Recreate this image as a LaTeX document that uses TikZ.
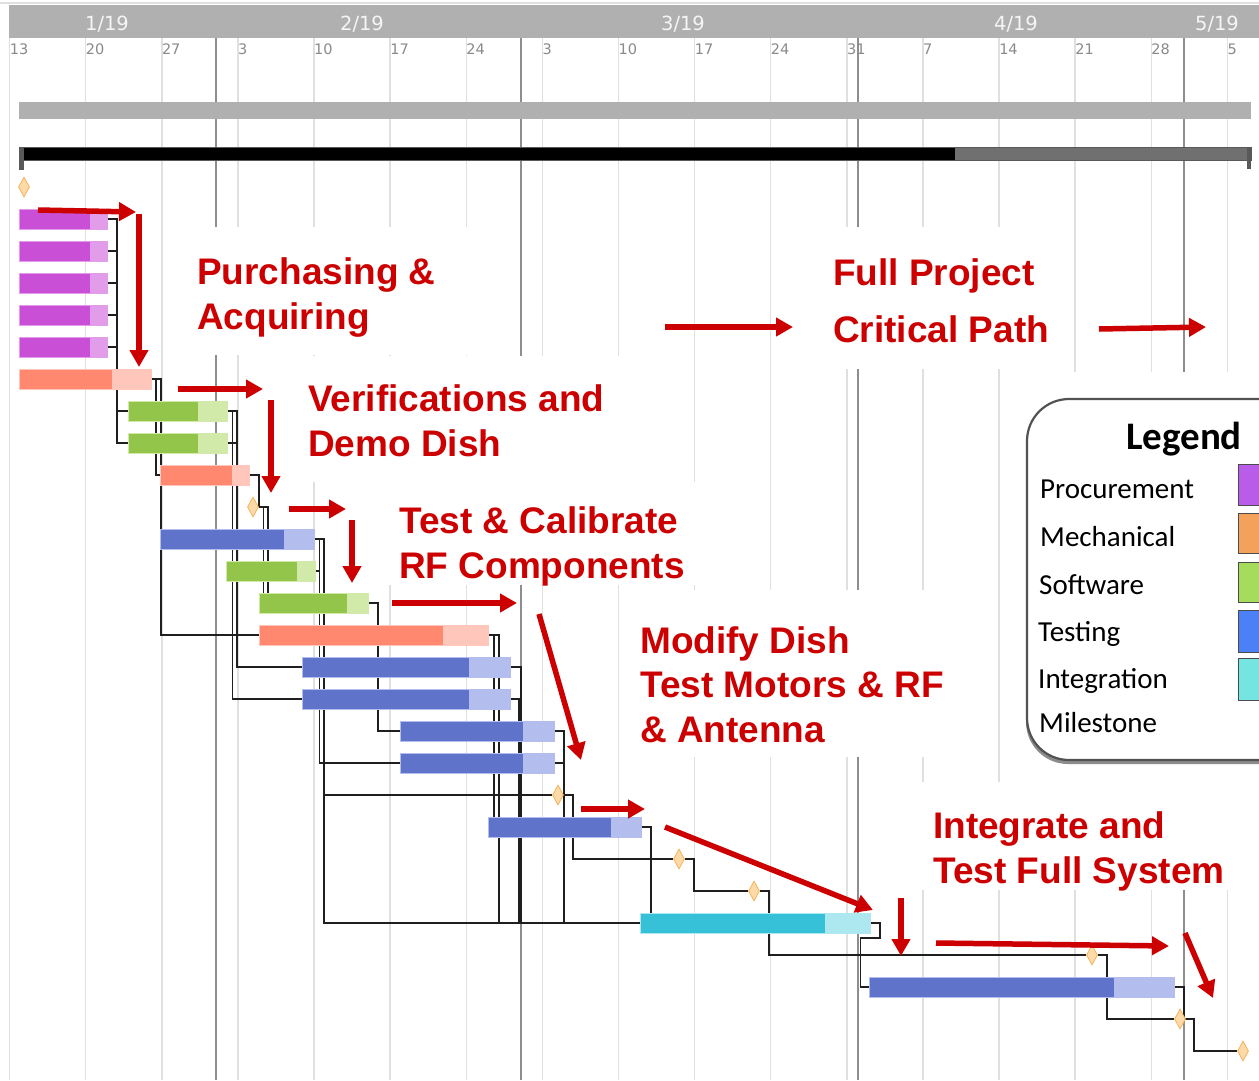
\documentclass[tikz,border=0pt]{standalone}
\usepackage{fontspec}
\setmainfont{DejaVu Sans}
\newfontfamily\notefont{Liberation Sans}
\newfontfamily\legendfont{Carlito}
\usetikzlibrary{shapes.geometric,arrows.meta}

\pgfdeclarelayer{back}
\pgfdeclarelayer{links}
\pgfdeclarelayer{front}
\pgfsetlayers{back,links,main,front}

\definecolor{bandgray}{HTML}{B0B0B0}
\definecolor{weekgray}{HTML}{E0E0E0}
\definecolor{monthgray}{HTML}{8E8E8E}
\definecolor{daytext}{HTML}{8A8A8A}
\definecolor{notered}{HTML}{CC0000}
\definecolor{procD}{HTML}{C94FD7}
\definecolor{procL}{HTML}{E29DEA}
\definecolor{mechD}{HTML}{FF886F}
\definecolor{mechL}{HTML}{FFC7BC}
\definecolor{softD}{HTML}{93C54B}
\definecolor{softL}{HTML}{D1EAA9}
\definecolor{testD}{HTML}{5F73CA}
\definecolor{testL}{HTML}{B3BEEE}
\definecolor{intD}{HTML}{36C1D9}
\definecolor{intL}{HTML}{ADE7F0}
\definecolor{mileF}{HTML}{FFDAA9}
\definecolor{mileD}{HTML}{F4B35A}
\definecolor{legProc}{HTML}{B95CEA}
\definecolor{legMech}{HTML}{F4A15C}
\definecolor{legSoft}{HTML}{A6DC5B}
\definecolor{legTest}{HTML}{4B80F6}
\definecolor{legInt}{HTML}{74E5E1}

\tikzset{
  task/.style={rectangle, inner sep=0pt, minimum height=20pt, anchor=west, line width=1pt},
  milestone/.style={diamond, inner sep=0pt, minimum width=11pt, minimum height=20pt,
    fill=mileF, draw=mileD, line width=0.8pt},
  link/.style={draw=black!88, line width=1.3pt},
  weekline/.style={draw=weekgray, line width=1.5pt},
  monthline/.style={draw=monthgray, line width=1.8pt},
  note/.style={draw=notered, line width=5.5pt, -{Triangle[length=17pt,width=18pt]}},
  notetext/.style={anchor=base west, inner sep=0pt, text=notered,
    font=\notefont\bfseries\fontsize{37}{37}\selectfont},
  daylabel/.style={anchor=base west, inner sep=0pt, text=daytext,
    font=\fontsize{14.5}{14.5}\selectfont},
  monthlabel/.style={anchor=base, inner sep=0pt, text=white!96!black,
    font=\fontsize{19.5}{19.5}\selectfont},
  legtext/.style={anchor=base west, inner sep=0pt, font=\legendfont\fontsize{29}{29}\selectfont},
  legtitle/.style={anchor=base west, inner sep=0pt, font=\legendfont\bfseries\fontsize{39}{39}\selectfont},
  swatch/.style={draw=black!70, line width=1pt},
}

% task bar: name, row y, start x, split x (done/remaining), end x, colour family
\newcommand\taskbar[6]{%
  \pgfmathsetmacro\tw{#5-#3}%
  \node[task, fill=#6D, draw=#6L, minimum width=\tw pt] (#1) at (#3,#2) {};
  \fill[#6L] (#4,#2-9.5) rectangle (#5-0.5,#2+9.5);
}

\begin{document}
\begin{tikzpicture}[x=1pt,y=-1pt]
\useasboundingbox (0,0) rectangle (1259,1080);
\clip (0,0) rectangle (1259,1080);

\begin{pgfonlayer}{back}
\fill[white] (0,0) rectangle (1259,1080);

% timescale header
\draw[draw=weekgray, line width=1.5pt] (0,3) -- (1259,3);
\fill[bandgray] (9,5) rectangle (1259,38);

% weekly grid
\foreach \d in {0,7,...,112}{
  \pgfmathsetmacro\gx{9.6+10.873*\d}
  \draw[weekline] (\gx,38) -- (\gx,1080);
}
% month boundaries
\foreach \d in {19,47,78,108}{
  \pgfmathsetmacro\gx{9.6+10.873*\d}
  \draw[monthline] (\gx,38) -- (\gx,1080);
}

% white panels behind the annotations and the legend
\fill[white] (190,227) rectangle (495,355);
\fill[white] (820,227) rectangle (1065,369);
\fill[white] (296,356) rectangle (650,482);
\fill[white] (385,482) rectangle (760,585);
\fill[white] (630,590) rectangle (960,757);
\fill[white] (905,782) rectangle (1259,890);
\fill[white] (1005,372) rectangle (1259,782);

% project summary bars
\fill[bandgray] (19,102) rectangle (1251,119);
\fill[black] (19,147) rectangle (955,160);
\fill[black!56] (955,147) rectangle (1251,160);
\draw[black!65, line width=0.8pt] (19,147) rectangle (1251,160);
\fill[black!65] (19,147) rectangle (23.5,170);
\fill[black!65] (1246.5,147) rectangle (1251,169);
\end{pgfonlayer}

% month and day labels
\node[monthlabel] (mJan) at (107,30) {1/19};
\node[monthlabel] (mFeb) at (362,30) {2/19};
\node[monthlabel] (mMar) at (683,30) {3/19};
\node[monthlabel] (mApr) at (1016,30) {4/19};
\node[monthlabel] (mMay) at (1217,30) {5/19};
\foreach \d/\lab in {0/13,7/20,14/27,21/3,28/10,35/17,42/24,49/3,56/10,63/17,70/24,77/31,84/7,91/14,98/21,105/28,112/5}{
  \pgfmathsetmacro\gx{9.6+10.873*\d}
  \node[daylabel] (day\d) at (\gx,54) {\lab};
}

% milestones
\node[milestone] (M0) at (24,187) {};
\node[milestone] (M10) at (253,507) {};
\node[milestone] (M19) at (558,795) {};
\node[milestone] (M21) at (679,859) {};
\node[milestone] (M22) at (754,891) {};
\node[milestone] (M24) at (1092,955) {};
\node[milestone] (M26) at (1180,1019) {};
\node[milestone] (M27) at (1243,1051) {};

% task bars
\taskbar{P1}{219}{19}{90}{107}{proc}
\taskbar{P2}{251}{19}{90}{107}{proc}
\taskbar{P3}{283}{19}{90}{107}{proc}
\taskbar{P4}{315}{19}{90}{107}{proc}
\taskbar{P5}{347}{19}{90}{107}{proc}
\taskbar{S6}{379}{19}{112}{151}{mech}
\taskbar{G7}{411}{128}{198}{227}{soft}
\taskbar{G8}{443}{128}{198}{227}{soft}
\taskbar{S9}{475}{160}{232}{249}{mech}
\taskbar{B11}{539}{160}{284}{314}{test}
\taskbar{G12}{571}{226}{297}{315}{soft}
\taskbar{G13}{603}{259}{347}{368}{soft}
\taskbar{S14}{635}{259}{443}{488}{mech}
\taskbar{B15}{667}{302}{469}{510}{test}
\taskbar{B16}{699}{302}{469}{510}{test}
\taskbar{B17}{731}{400}{523}{554}{test}
\taskbar{B18}{763}{400}{523}{554}{test}
\taskbar{B20}{827}{488}{611}{641}{test}
\taskbar{C23}{923}{640}{825}{870}{int}
\taskbar{B25}{987}{869}{1114}{1174}{test}

% dependency links, kept behind the bars
\begin{pgfonlayer}{links}
\draw[link] (P1.east) -- ++(9,0) |- (G7.west);
\draw[link] (P1.east) ++(9,0) |- (G8.west);
\foreach \p in {P2,P3,P4,P5} \draw[link] (\p.east) -- ++(9,0);
\draw[link] (S6.east) -- ++(4,0) |- (S9.west);
\draw[link] (S6.east) -- ++(9,0) |- (S14.west);
\draw[link] (G7.east) -- ++(9,0) |- (B15.west);
\draw[link] (G7.east) -- ++(4.5,0) |- (B16.west);
\draw[link] (G8.east) -- ++(9,0);
\draw[link] (S9.east) -- ++(9,0) |- (M10.east);
\draw[link] (M10.east) -| ([xshift=4.5pt]G13.north west);
\draw[link] (M10.east) -| ([xshift=9pt]G13.north west);
\draw[link] (B11.east) -- ++(9,0) |- (C23.west);
\draw[link] (B11.east) ++(9,0) |- (M19.west);
\draw[link] (B11.east) -- ++(4.5,0) |- (B18.west);
\draw[link] (G12.east) -- ++(4,0);
\draw[link] (G13.east) -- ++(9,0) |- (B17.west);
\draw[link] (S14.east) -- ++(5,0) |- (B20.center);
\draw[link] (S14.east) -- ++(10,0) |- (C23.west);
\draw[link] (B15.east) -- ++(10,0) |- (C23.west);
\draw[link] (B16.east) -- ++(8,0) |- (C23.west);
\draw[link] (B17.east) -- ++(9,0) |- (C23.west);
\draw[link] (B18.east) -- ++(9,0);
\draw[link] (B20.east) -- ++(9,0) |- (C23.center);
\draw[link] (M19.east) -- ++(9,0) |- (M21.west);
\draw[link] (M21.east) -- ++(9,0) |- (M22.west);
\draw[link] (M22.east) -- ++(9,0) |- (M24.west);
\draw[link] (C23.east) -- ++(9,0) -- ++(0,15) -- ++(-19.5,0) |- (B25.west);
\draw[link] (M24.east) -- ++(9,0) |- (M26.west);
\draw[link] (B25.east) -- ++(9,0) |- (M26.east);
\draw[link] (M26.east) -- ++(8,0) |- (M27.west);
\end{pgfonlayer}

\begin{pgfonlayer}{front}
% legend
\fill[black!45] (1026,403) [rounded corners=42pt] rectangle (1320,764);
\draw[draw=black!68, line width=2.2pt, fill=white, rounded corners=42pt] (1027,399) rectangle (1320,760);
\node[legtitle] (legTitle) at (1126,449) {Legend};
\node[legtext] (legA) at (1040,498) {Procurement};
\node[legtext] (legB) at (1040,546) {Mechanical};
\node[legtext] (legC) at (1039,594) {Software};
\node[legtext] (legD) at (1038,641) {Testing};
\node[legtext] (legE) at (1038,688) {Integration};
\node[legtext] (legF) at (1039,732) {Milestone};
\filldraw[swatch, fill=legProc] (1238,464) rectangle (1290,505);
\filldraw[swatch, fill=legMech] (1238,513) rectangle (1290,553);
\filldraw[swatch, fill=legSoft] (1238,562) rectangle (1290,602);
\filldraw[swatch, fill=legTest] (1238,610) rectangle (1290,652);
\filldraw[swatch, fill=legInt] (1238,658) rectangle (1290,700);

% annotations
\node[notetext] (tPur) at (197,284) {Purchasing \&};
\node[notetext] (tAcq) at (197,329) {Acquiring};
\node[notetext] (tFull) at (833,285) {Full Project};
\node[notetext] (tCrit) at (833,342) {Critical Path};
\node[notetext] (tVer) at (308,411) {Verifications and};
\node[notetext] (tDemo) at (308,456) {Demo Dish};
\node[notetext] (tTest) at (399,533) {Test \& Calibrate};
\node[notetext] (tRF) at (399,578) {RF Components};
\node[notetext] (tMod) at (640,653) {Modify Dish};
\node[notetext] (tMot) at (640,697) {Test Motors \& RF};
\node[notetext] (tAnt) at (640,742) {\& Antenna};
\node[notetext] (tInt) at (933,838) {Integrate and};
\node[notetext] (tSys) at (933,883) {Test Full System};

\draw[note] (38,210) -- (136,212);
\draw[note] (139,214) -- (139,367);
\draw[note] (178,389) -- (263,389);
\draw[note] (271,400) -- (271,493);
\draw[note] (289,509) -- (346,509);
\draw[note] (352,520) -- (352,583);
\draw[note] (392,603) -- (517,603);
\draw[note] (539,614) -- (581,760);
\draw[note] (581,809) -- (645,809);
\draw[note] (665,827) -- (873,910);
\draw[note] (901,898) -- (901,956);
\draw[note] (936,943) -- (1169,946);
\draw[note] (1185,933) -- (1213,998);
\draw[note] (665,327) -- (793,327);
\draw[note] (1099,329) -- (1206,327);
\end{pgfonlayer}
\end{tikzpicture}
\end{document}
